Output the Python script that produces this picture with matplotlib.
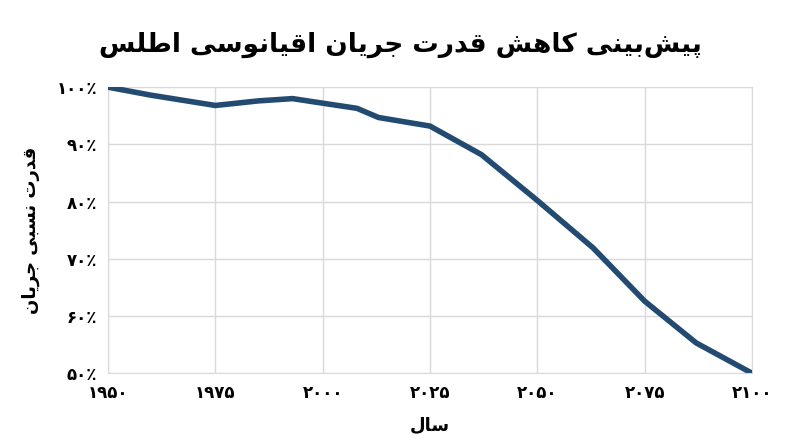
import matplotlib
matplotlib.use("Agg")
import matplotlib.pyplot as plt
from matplotlib.ticker import FixedLocator

years = [1950, 1960, 1975, 1985, 1993, 2000, 2008, 2013, 2025, 2037, 2050, 2063, 2075, 2087, 2100]
strength = [100, 98.6, 96.8, 97.6, 98.0, 97.2, 96.3, 94.7, 93.2, 88.2, 80.2, 71.9, 62.6, 55.3, 50]
xticks = [1950, 1975, 2000, 2025, 2050, 2075, 2100]
yticks = [50, 60, 70, 80, 90, 100]
title = "پیش‌بینی کاهش قدرت جریان اقیانوسی اطلس"
xlabel = "سال"
ylabel = "قدرت نسبی جریان"

FORMS = {
    'ا': (0xFE8D, 0xFE8E, None, None), 'ب': (0xFE8F, 0xFE90, 0xFE91, 0xFE92),
    'پ': (0xFB56, 0xFB57, 0xFB58, 0xFB59), 'ت': (0xFE95, 0xFE96, 0xFE97, 0xFE98),
    'ج': (0xFE9D, 0xFE9E, 0xFE9F, 0xFEA0), 'د': (0xFEA9, 0xFEAA, None, None),
    'ر': (0xFEAD, 0xFEAE, None, None), 'س': (0xFEB1, 0xFEB2, 0xFEB3, 0xFEB4),
    'ش': (0xFEB5, 0xFEB6, 0xFEB7, 0xFEB8), 'ط': (0xFEC1, 0xFEC2, 0xFEC3, 0xFEC4),
    'ق': (0xFED5, 0xFED6, 0xFED7, 0xFED8), 'ک': (0xFB8E, 0xFB8F, 0xFB90, 0xFB91),
    'ل': (0xFEDD, 0xFEDE, 0xFEDF, 0xFEE0), 'م': (0xFEE1, 0xFEE2, 0xFEE3, 0xFEE4),
    'ن': (0xFEE5, 0xFEE6, 0xFEE7, 0xFEE8), 'ه': (0xFEE9, 0xFEEA, 0xFEEB, 0xFEEC),
    'و': (0xFEED, 0xFEEE, None, None), 'ی': (0xFBFC, 0xFBFD, 0xFBFE, 0xFBFF),
}

def shape(s):
    out = []
    for i, c in enumerate(s):
        if c not in FORMS:
            if c != '\u200c':
                out.append(c)
            continue
        prev = s[i-1] if i > 0 else ''
        nxt = s[i+1] if i + 1 < len(s) else ''
        jp = prev in FORMS and FORMS[prev][2] is not None
        jn = nxt in FORMS and FORMS[c][2] is not None
        iso, fin, ini, med = FORMS[c]
        if jp and jn: g = med
        elif jp: g = fin
        elif jn: g = ini
        else: g = iso
        out.append(chr(g))
    return ''.join(reversed(out))

def fa_digits(n):
    return ''.join(chr(0x06F0 + int(d)) for d in str(n))

plt.rcParams['font.family'] = ['DejaVu Sans']
fig = plt.figure(figsize=(8, 4.47), dpi=100)
ax = fig.add_axes([0.135, 0.165, 0.805, 0.64])
color = '#234b72'
ax.plot(years, strength, color=color, lw=4, solid_capstyle='butt', zorder=3)
ax.set_xlim(1950, 2100)
ax.set_ylim(50, 100)
ax.xaxis.set_major_locator(FixedLocator(xticks))
ax.yaxis.set_major_locator(FixedLocator(yticks))
ax.set_xticklabels([fa_digits(v) for v in xticks], fontsize=12, fontweight='bold')
ax.set_yticklabels([fa_digits(v) + '٪' for v in yticks], fontsize=12, fontweight='bold')
ax.grid(True, color='#d9d9d9', lw=1)
for sp in ax.spines.values():
    sp.set_color('#d9d9d9')
ax.tick_params(length=0, pad=8)
ax.set_xlabel(shape(xlabel), fontsize=13, fontweight='bold', labelpad=10)
ax.set_ylabel(shape(ylabel), fontsize=13, fontweight='bold', labelpad=12)
fig.suptitle(shape(title), fontsize=19, fontweight='bold', y=0.93)
fig.savefig('out.png', dpi=100)
